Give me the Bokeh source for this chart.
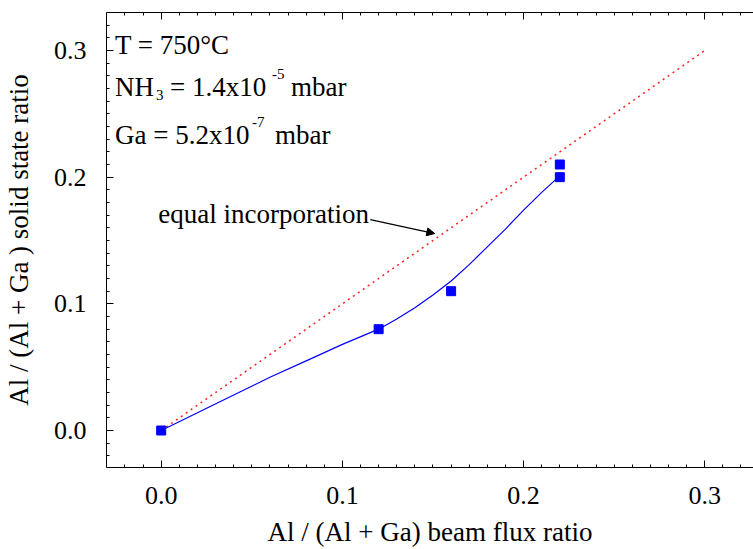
from bokeh.plotting import figure
from bokeh.models import (Range1d, LinearAxis, Label, Arrow, NormalHead, SingleIntervalTicker,
                          CustomJSTickFormatter)
from bokeh.embed import file_html
from bokeh.resources import INLINE

# measured points
flux_ratio = [0.0, 0.12, 0.16, 0.22, 0.22]
solid_ratio = [0.0, 0.080, 0.110, 0.200, 0.210]

# hand-drawn guide curve through the data
curve_x = [0.0, 0.02, 0.04, 0.06, 0.08, 0.10, 0.12, 0.13, 0.14, 0.15, 0.16, 0.17, 0.18, 0.19, 0.20, 0.21, 0.22]
curve_y = [0.0, 0.014, 0.028, 0.042, 0.055, 0.068, 0.080, 0.088, 0.097, 0.107, 0.118, 0.131, 0.145, 0.159, 0.174, 0.188, 0.201]

# equal incorporation line
equal_x = [0.0, 0.3]
equal_y = [0.0, 0.3]

FONT = "Liberation Serif"

p = figure(width=753, height=549, output_backend="svg", toolbar_location=None,
           x_range=Range1d(-0.0302, 0.3269), y_range=Range1d(-0.0292, 0.330),
           min_border_left=103, min_border_right=0, min_border_top=12, min_border_bottom=82)
p.xgrid.visible = False
p.ygrid.visible = False
p.outline_line_color = None
p.background_fill_color = "white"
p.border_fill_color = "white"

def style(ax):
    ax.ticker = SingleIntervalTicker(interval=0.1, num_minor_ticks=10)
    ax.axis_line_color = "black"
    ax.axis_line_width = 1
    ax.major_tick_in = 7
    ax.major_tick_out = 0
    ax.minor_tick_in = 3
    ax.minor_tick_out = 0
    ax.major_tick_line_color = "black"
    ax.minor_tick_line_color = "black"
    ax.major_label_text_font = FONT
    ax.major_label_text_font_size = "26px"
    ax.major_label_text_color = "black"
    ax.axis_label_text_font = FONT
    ax.axis_label_text_font_size = "27px"
    ax.axis_label_text_font_style = "normal"
    ax.axis_label_text_color = "black"

style(p.xaxis[0])
style(p.yaxis[0])
p.xaxis[0].major_label_overrides = {0: "0.0", 0.1: "0.1", 0.2: "0.2", 0.3: "0.3"}
p.yaxis[0].major_label_overrides = {0: "0.0", 0.1: "0.1", 0.2: "0.2", 0.3: "0.3"}
p.xaxis[0].axis_label = "Al / (Al + Ga) beam flux ratio"
p.yaxis[0].axis_label = "Al / (Al + Ga ) solid state ratio"
p.xaxis[0].major_label_standoff = 19
p.xaxis[0].axis_label_standoff = 10
p.yaxis[0].major_label_standoff = 20
p.yaxis[0].axis_label_standoff = 17

top = LinearAxis()
style(top)
top.formatter = CustomJSTickFormatter(code="return '';")
top.major_label_standoff = 0
p.add_layout(top, "above")

p.line(equal_x, equal_y, line_color="#ff2020", line_width=1.5, line_dash="2 4")
p.line(curve_x, curve_y, line_color="#0000ff", line_width=1.2)
p.scatter(flux_ratio, solid_ratio, marker="square", size=9, fill_color="#0000ff", line_color="#0000ff")

# annotations
def lab(x, y, text, size="27px", xo=0, yo=0):
    p.add_layout(Label(x=x, y=y, text=text, x_offset=xo, y_offset=yo,
                       text_font=FONT, text_font_size=size, text_color="black",
                       text_baseline="alphabetic", text_align="left"))

x0 = -0.0255
lab(x0, 0.3045, "T = 750°C")
lab(x0, 0.271, "NH")
lab(x0, 0.271, "3", size="15px", xo=41, yo=-8)
lab(x0, 0.271, "= 1.4x10", xo=55)
lab(x0, 0.271, "-5", size="15px", xo=157, yo=13)
lab(x0, 0.271, "mbar", xo=176)
lab(x0, 0.2335, "Ga = 5.2x10")
lab(x0, 0.2335, "-7", size="15px", xo=137, yo=13)
lab(x0, 0.2335, "mbar", xo=160)

lab(-0.0016, 0.171, "equal incorporation")
p.add_layout(Arrow(x_start=0.1154, y_start=0.1665, x_end=0.151, y_end=0.1555,
                   line_color="black", line_width=1.2,
                   end=NormalHead(size=8, fill_color="black", line_color="black")))

open("out.html", "w").write(file_html(p, INLINE))
